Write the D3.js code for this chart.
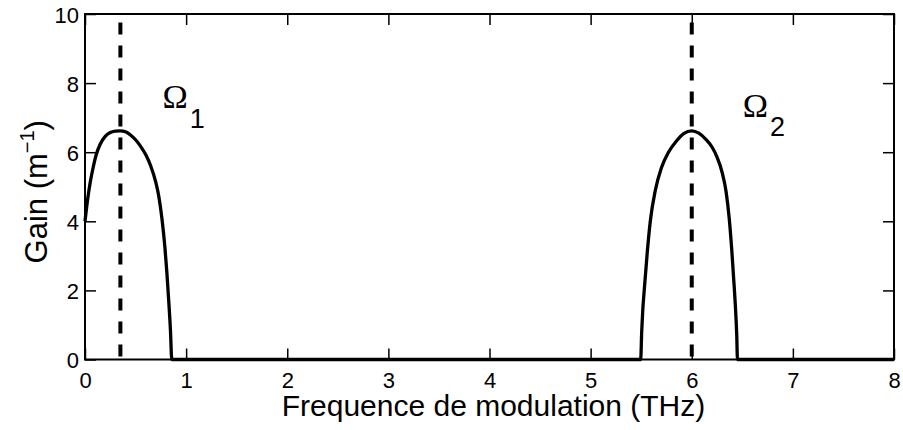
<!DOCTYPE html>
<html>
<head>
<meta charset="utf-8">
<script src="https://cdn.jsdelivr.net/npm/d3@7/dist/d3.min.js"></script>
<style>
  html, body { margin: 0; padding: 0; background: #fff; }
  svg { display: block; font-family: "Liberation Sans", Arial, sans-serif; }
</style>
</head>
<body>
<svg id="chart" width="903" height="430"></svg>
<script>
// ---- data ----
const freq = [0, 0.02, 0.05, 0.08, 0.11, 0.15, 0.2, 0.25, 0.3, 0.35, 0.4, 0.45, 0.5, 0.55, 0.6, 0.65, 0.7, 0.73, 0.76, 0.79, 0.81, 0.83, 0.845, 0.858,
              5.495, 5.505, 5.515, 5.53, 5.56, 5.59, 5.64, 5.7, 5.77, 5.85, 5.92, 6.0, 6.07, 6.14, 6.2, 6.25, 6.3, 6.34, 6.37, 6.395, 6.42, 6.435, 6.445, 6.452, 8];
const gain = [4.0, 4.5, 5.1, 5.55, 5.92, 6.23, 6.46, 6.57, 6.61, 6.62, 6.59, 6.5, 6.36, 6.17, 5.93, 5.6, 5.13, 4.72, 4.1, 3.25, 2.5, 1.6, 0.85, 0,
              0, 0.8, 1.4, 2.0, 3.1, 4.0, 4.9, 5.55, 6.0, 6.33, 6.54, 6.62, 6.55, 6.37, 6.15, 5.86, 5.42, 4.85, 4.1, 3.2, 2.1, 1.35, 0.7, 0, 0];
const peakFreq = [0.35, 6.0];
const peakLabels = ["1", "2"];
const xTicks = [0, 1, 2, 3, 4, 5, 6, 7, 8];
const yTicks = [0, 2, 4, 6, 8, 10];
const xDomain = [0, 8];
const yDomain = [0, 10];
const xLabel = "Frequence de modulation (THz)";

// ---- layout ----
const svg = d3.select("#chart");
const L = 85, R = 894, T = 14, B = 359.5;
const x = d3.scaleLinear().domain(xDomain).range([L, R]);
const y = d3.scaleLinear().domain(yDomain).range([B, T]);
const tickLen = 11;

// dashed peak lines
svg.selectAll("line.peak").data(peakFreq).enter().append("line")
  .attr("class", "peak")
  .attr("x1", d => x(d)).attr("x2", d => x(d))
  .attr("y1", y(yDomain[0]) - 3).attr("y2", y(yDomain[1]))
  .attr("stroke", "#000").attr("stroke-width", 4)
  .attr("stroke-dasharray", "12,11");

// gain curve
const pts = freq.map((f, i) => [f, gain[i]]);
const line = d3.line().x(d => x(d[0])).y(d => y(d[1])).curve(d3.curveMonotoneX);
svg.append("path").datum(pts)
  .attr("d", line)
  .attr("fill", "none").attr("stroke", "#000").attr("stroke-width", 3.3)
  .attr("stroke-linejoin", "round");

// axes with inward ticks (bottom, top, left, right)
const axB = svg.append("g").attr("transform", `translate(0,${B})`)
  .call(d3.axisBottom(x).tickValues(xTicks).tickSizeInner(-tickLen).tickSizeOuter(0).tickFormat(d3.format("d")));
const axT = svg.append("g").attr("transform", `translate(0,${T})`)
  .call(d3.axisTop(x).tickValues(xTicks).tickSizeInner(-tickLen).tickSizeOuter(0).tickFormat(""));
const axL = svg.append("g").attr("transform", `translate(${L},0)`)
  .call(d3.axisLeft(y).tickValues(yTicks).tickSizeInner(-tickLen).tickSizeOuter(0).tickFormat(d3.format("d")));
const axR = svg.append("g").attr("transform", `translate(${R},0)`)
  .call(d3.axisRight(y).tickValues(yTicks).tickSizeInner(-tickLen).tickSizeOuter(0).tickFormat(""));

[axB, axT, axL, axR].forEach(g => {
  g.select(".domain").remove();
  g.selectAll(".tick line").attr("stroke", "#000").attr("stroke-width", 1.5);
  g.selectAll(".tick text").attr("fill", "#000").attr("font-size", 22)
    .attr("font-family", "'Liberation Sans', Arial, sans-serif");
});
axB.selectAll(".tick text").attr("dy", null).attr("y", 28).attr("dominant-baseline", "alphabetic");
axL.selectAll(".tick text").attr("dy", null).attr("y", 8).attr("x", -6).attr("dominant-baseline", "alphabetic");

// frame
svg.append("rect").attr("x", L).attr("y", T).attr("width", R - L).attr("height", B - T)
  .attr("fill", "none").attr("stroke", "#000").attr("stroke-width", 2);

// axis labels
svg.append("text").attr("x", (L + R) / 2 + 4).attr("y", 416)
  .attr("text-anchor", "middle").attr("font-size", 30).attr("fill", "#000").text(xLabel);

const yl = svg.append("text")
  .attr("transform", `translate(47,${(T + B) / 2 + 5}) rotate(-90)`)
  .attr("text-anchor", "middle").attr("font-size", 31).attr("fill", "#000");
yl.append("tspan").text("Gain (m");
yl.append("tspan").attr("font-size", 20).attr("dy", -13).text("\u22121");
yl.append("tspan").attr("dy", 13).text(")");

// Omega annotations
const omegaPos = [{dx: 42, by: 108, sby: 128}, {dx: 51, by: 117, sby: 136}];
peakFreq.forEach((f, i) => {
  const t = svg.append("text").attr("x", x(f) + omegaPos[i].dx).attr("y", omegaPos[i].by)
    .attr("font-size", 33).attr("fill", "#000");
  t.append("tspan").attr("font-family", "'Liberation Serif', 'Times New Roman', serif")
    .attr("font-size", 34).text("\u03A9");
  t.append("tspan").attr("font-size", 27).attr("dx", 2).attr("dy", omegaPos[i].sby - omegaPos[i].by).text(peakLabels[i]);
});
</script>
</body>
</html>
